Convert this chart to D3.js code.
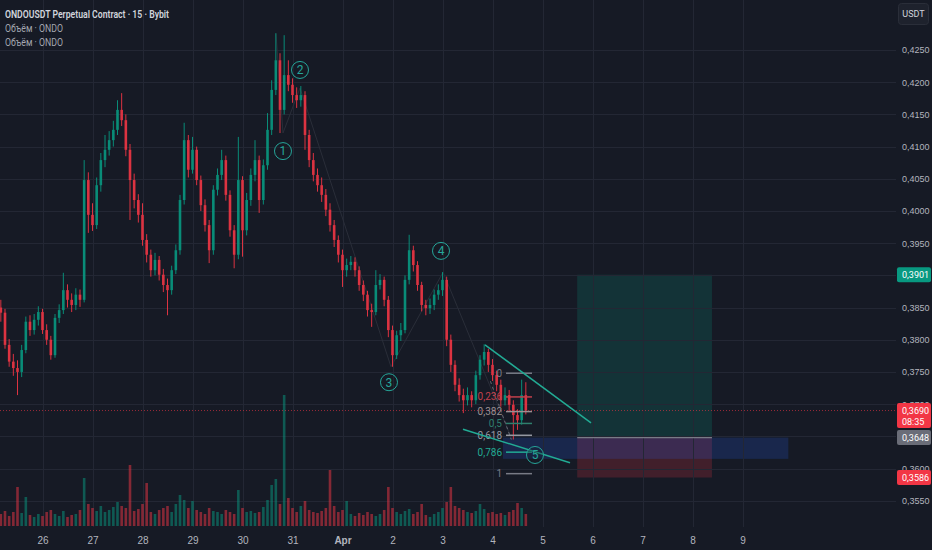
<!DOCTYPE html>
<html>
<head>
<meta charset="utf-8">
<script src="https://cdn.jsdelivr.net/npm/d3@7"></script>
<style>
html, body { margin: 0; padding: 0; background: #161a25; }
svg { display: block; font-family: Roboto, "Noto Sans", sans-serif; }
</style>
</head>
<body>
<div id="main"></div>
<script>
// 2h candles, starting Mar 25 04:00
var closes = [
	0.3842, 0.3792, 0.3766, 0.3756, 0.3750, 0.3784, 0.3828, 0.3815, 0.3831, 0.3843,
	0.3815, 0.3800, 0.3776, 0.3834, 0.3846, 0.3877, 0.3862, 0.3854, 0.3870, 0.3862,
	0.4048, 0.3994, 0.3978, 0.4040, 0.4079, 0.4095, 0.4110, 0.4126, 0.4157, 0.4141,
	0.4095, 0.4048, 0.4017, 0.3994, 0.3955, 0.3932, 0.3908, 0.3924, 0.3901, 0.3885,
	0.3877, 0.3908, 0.3939, 0.4017, 0.4110, 0.4064, 0.4095, 0.4048, 0.4009, 0.3978,
	0.3939, 0.4033, 0.4056, 0.4079, 0.4025, 0.3970, 0.3932, 0.4048, 0.3970, 0.4017,
	0.4056, 0.4079, 0.4017, 0.4071, 0.4126, 0.4188, 0.4234, 0.4157, 0.4211, 0.4196,
	0.4180, 0.4172, 0.4180, 0.4118, 0.4079, 0.4056, 0.4040, 0.4025, 0.4002, 0.3978,
	0.3955, 0.3932, 0.3908, 0.3916, 0.3921, 0.3908, 0.3885, 0.3870, 0.3846, 0.3843,
	0.3885, 0.3893, 0.3862, 0.3815, 0.3776, 0.3807, 0.3815, 0.3893, 0.3939, 0.3916,
	0.3885, 0.3854, 0.3849, 0.3854, 0.3870, 0.3877, 0.3893, 0.3800, 0.3761, 0.3730,
	0.3714, 0.3706, 0.3714, 0.3706, 0.3745, 0.3769, 0.3781, 0.3761, 0.3745, 0.3730,
	0.3706, 0.3714, 0.3699, 0.3683, 0.3675, 0.3714, 0.3690
];
var highs = [
	0.3862, 0.3848, 0.3801, 0.3778, 0.3768, 0.3792, 0.3836, 0.3838, 0.3840, 0.3852,
	0.3848, 0.3824, 0.3806, 0.3840, 0.3855, 0.3904, 0.3886, 0.3872, 0.3880, 0.3878,
	0.4079, 0.4060, 0.4012, 0.4052, 0.4090, 0.4118, 0.4124, 0.4140, 0.4172, 0.4183,
	0.4150, 0.4104, 0.4058, 0.4026, 0.4012, 0.3964, 0.3940, 0.3935, 0.3930, 0.3910,
	0.3895, 0.3915, 0.3948, 0.4025, 0.4137, 0.4118, 0.4115, 0.4100, 0.4055, 0.4018,
	0.3986, 0.4040, 0.4066, 0.4095, 0.4086, 0.4032, 0.3978, 0.4115, 0.4054, 0.4028,
	0.4066, 0.4110, 0.4086, 0.4080, 0.4152, 0.4203, 0.4276, 0.4245, 0.4273, 0.4234,
	0.4206, 0.4192, 0.4194, 0.4186, 0.4126, 0.4090, 0.4066, 0.4052, 0.4034, 0.4012,
	0.3986, 0.3962, 0.3940, 0.3926, 0.3930, 0.3928, 0.3914, 0.3892, 0.3876, 0.3856,
	0.3908, 0.3902, 0.3898, 0.3868, 0.3822, 0.3814, 0.3826, 0.3900, 0.3963, 0.3946,
	0.3922, 0.3890, 0.3862, 0.3864, 0.3878, 0.3886, 0.3905, 0.3898, 0.3808, 0.3768,
	0.3740, 0.3724, 0.3726, 0.3720, 0.3752, 0.3776, 0.3793, 0.3786, 0.3770, 0.3752,
	0.3738, 0.3726, 0.3722, 0.3706, 0.3692, 0.3738, 0.3734
];
var lows = [
	0.3828, 0.3786, 0.3758, 0.3744, 0.3714, 0.3742, 0.3779, 0.3806, 0.3808, 0.3822,
	0.3809, 0.3792, 0.3769, 0.3772, 0.3826, 0.3840, 0.3850, 0.3843, 0.3846, 0.3851,
	0.3858, 0.3966, 0.3969, 0.3972, 0.4030, 0.4068, 0.4086, 0.4100, 0.4118, 0.4132,
	0.4085, 0.3986, 0.4004, 0.3982, 0.3946, 0.3920, 0.3898, 0.3900, 0.3892, 0.3874,
	0.3838, 0.3870, 0.3902, 0.3932, 0.4010, 0.4052, 0.4058, 0.4040, 0.4000, 0.3968,
	0.3919, 0.3932, 0.4024, 0.4048, 0.4016, 0.3960, 0.3911, 0.3925, 0.3929, 0.3962,
	0.4008, 0.4046, 0.3997, 0.4010, 0.4064, 0.4118, 0.4180, 0.4121, 0.4150, 0.4186,
	0.4168, 0.4160, 0.4162, 0.4095, 0.4068, 0.4046, 0.4030, 0.4014, 0.3992, 0.3968,
	0.3944, 0.3920, 0.3882, 0.3898, 0.3908, 0.3898, 0.3876, 0.3860, 0.3836, 0.3820,
	0.3838, 0.3878, 0.3852, 0.3804, 0.3758, 0.3770, 0.3798, 0.3810, 0.3886, 0.3906,
	0.3876, 0.3844, 0.3838, 0.3840, 0.3846, 0.3862, 0.3868, 0.3790, 0.3750, 0.3720,
	0.3704, 0.3686, 0.3698, 0.3695, 0.3700, 0.3738, 0.3760, 0.3750, 0.3736, 0.3720,
	0.3696, 0.3698, 0.3688, 0.3645, 0.3660, 0.3668, 0.3684
];
var volumes = [
	120, 150, 100, 140, 390, 130, 290, 110, 90, 120,
	100, 140, 160, 120, 100, 150, 90, 110, 120, 160,
	480, 220, 180, 150, 200, 140, 160, 190, 240, 200,
	180, 610, 150, 170, 220, 430, 140, 120, 160, 180,
	200, 140, 220, 310, 260, 180, 250, 160, 140, 120,
	180, 150, 140, 120, 160, 140, 120, 360, 180, 140,
	150, 130, 140, 190, 260, 410, 470, 220, 1310, 280,
	180, 140, 200, 250, 160, 140, 130, 150, 180, 560,
	200, 140, 160, 250, 120, 100, 130, 110, 140, 120,
	100, 120, 160, 390, 180, 140, 120, 150, 170, 120,
	140, 220, 110, 90, 120, 140, 180, 240, 390, 200,
	180, 160, 140, 130, 150, 220, 170, 130, 140, 120,
	130, 110, 140, 160, 230, 180, 120
];
var firstOpen = 0.3850;

var dayLabels = ["26", "27", "28", "29", "30", "31", "Apr", "2", "3", "4", "5", "6", "7", "8", "9"];
var priceTicks = [0.3550, 0.3600, 0.3650, 0.3700, 0.3750, 0.3800, 0.3850, 0.3900,
	0.3950, 0.4000, 0.4050, 0.4100, 0.4150, 0.4200, 0.4250];

// drawings
var fibLevels = [0, 0.236, 0.382, 0.5, 0.618, 0.786, 1];
var fibLabels = ["0", "0,236", "0,382", "0,5", "0,618", "0,786", "1"];
var fibColors = ["#787b86", "#c2404c", "#9a8f93", "#2f7f6d", "#9598a1", "#22ab94", "#787b86"];
var fibTop = 0.3748, fibBottom = 0.3592;

var waveNames = ["1", "2", "3", "4", "5"];
var waveLabelTimes = ["2025-03-30T19:26Z", "2025-03-31T03:36Z", "2025-04-01T22:19Z", "2025-04-02T23:17Z", "2025-04-04T20:24Z"];
var waveLabelPrices = [0.4093, 0.4219, 0.3734, 0.3938, 0.3621];
var wavePathTimes = ["2025-03-30T16:05Z", "2025-03-30T19:26Z", "2025-03-31T03:36Z", "2025-04-01T23:17Z", "2025-04-03T00:17Z", "2025-04-04T09:22Z"];
var wavePathPrices = [0.4276, 0.4121, 0.4191, 0.3758, 0.3905, 0.3645];

var wedgeUpper = [["2025-04-03T20:24Z", 0.3792], ["2025-04-05T23:17Z", 0.3671]];
var wedgeLower = [["2025-04-03T09:50Z", 0.3661], ["2025-04-05T13:12Z", 0.3609]];

var posStart = "2025-04-05T16:40Z", posEnd = "2025-04-08T09:20Z";
var target = 0.3901, entry = 0.3648, stop = 0.3586, lastPrice = 0.3690;
var zoneStart = "2025-04-04T05:00Z", zoneEnd = "2025-04-09T22:00Z", zoneTop = 0.3648, zoneBottom = 0.3615;

var W = 932, H = 550, plotRight = 896;
var startTime = Date.UTC(2025, 2, 25, 4);
var step = 2 * 3600 * 1000;

var svg = d3.select("#main").append("svg")
	.attr("width", W)
	.attr("height", H);

svg.append("rect").attr("width", W).attr("height", H).attr("fill", "#161a25");

var x = d3.scaleUtc()
	.domain([new Date(Date.UTC(2025, 2, 26)), new Date(Date.UTC(2025, 3, 9))])
	.range([42.5, 742.5]);
var y = d3.scaleLinear().domain([0.3550, 0.4250]).range([500.7, 50]);
var vy = d3.scaleLinear().domain([0, 1310]).range([526, 395]);

var dayTicks = dayLabels.map(function(d, i) { return new Date(Date.UTC(2025, 2, 26 + i)); });
var times = closes.map(function(d, i) { return new Date(startTime + i * step); });
var opens = closes.map(function(d, i) { return i === 0 ? firstOpen : closes[i - 1]; });
var iso = function(s) { return new Date(s); };
var fmt = function(p) { return d3.format(".4f")(p).replace(".", ","); };

// position tool + zone (under the grid, like TV)
svg.append("rect")
	.attr("x", x(iso(posStart))).attr("width", x(iso(posEnd)) - x(iso(posStart)))
	.attr("y", y(target)).attr("height", y(entry) - y(target))
	.attr("fill", "rgba(8,153,129,0.2)");
svg.append("rect")
	.attr("x", x(iso(posStart))).attr("width", x(iso(posEnd)) - x(iso(posStart)))
	.attr("y", y(entry)).attr("height", y(stop) - y(entry))
	.attr("fill", "rgba(242,54,69,0.2)");
svg.append("rect")
	.attr("x", x(iso(zoneStart))).attr("width", x(iso(zoneEnd)) - x(iso(zoneStart)))
	.attr("y", y(zoneTop)).attr("height", y(zoneBottom) - y(zoneTop))
	.attr("fill", "rgba(41,98,255,0.18)");

// grid
svg.append("g").selectAll("line").data(priceTicks).enter().append("line")
	.attr("x1", 0).attr("x2", plotRight)
	.attr("y1", function(d) { return Math.round(y(d)) + 0.5; })
	.attr("y2", function(d) { return Math.round(y(d)) + 0.5; })
	.attr("stroke", "#232734");
svg.append("g").selectAll("line").data(dayTicks).enter().append("line")
	.attr("x1", function(d) { return Math.round(x(d)) + 0.5; })
	.attr("x2", function(d) { return Math.round(x(d)) + 0.5; })
	.attr("y1", 0).attr("y2", 527)
	.attr("stroke", "#232734");

svg.append("line")
	.attr("x1", x(iso(posStart))).attr("x2", x(iso(posEnd)))
	.attr("y1", y(entry)).attr("y2", y(entry))
	.attr("stroke", "#787b86").attr("stroke-width", 1.2);

// volume
var bw = 2.6;
svg.append("g").selectAll("rect").data(volumes).enter().append("rect")
	.attr("x", function(d, i) { return x(times[i]) - bw / 2; })
	.attr("width", bw)
	.attr("y", function(d) { return vy(d); })
	.attr("height", function(d) { return vy(0) - vy(d); })
	.attr("fill", function(d, i) { return closes[i] >= opens[i] ? "rgba(8,153,129,0.5)" : "rgba(242,54,69,0.5)"; });

// current price line
svg.append("line")
	.attr("x1", 0).attr("x2", plotRight)
	.attr("y1", y(lastPrice)).attr("y2", y(lastPrice))
	.attr("stroke", "#f23645").attr("stroke-opacity", 0.6)
	.attr("stroke-dasharray", "1,2");

// elliott wave connectors
svg.append("path")
	.datum(wavePathTimes.map(function(t, i) { return [x(iso(t)), y(wavePathPrices[i])]; }))
	.attr("d", d3.line())
	.attr("fill", "none")
	.attr("stroke", "#2a2e39")
	.attr("stroke-width", 1);

// candles
var candles = svg.append("g").attr("opacity", 0.9)
	.selectAll("g").data(closes).enter().append("g")
	.attr("fill", function(d, i) { return d >= opens[i] ? "#089981" : "#f23645"; })
	.attr("stroke", function(d, i) { return d >= opens[i] ? "#089981" : "#f23645"; });
candles.append("line")
	.attr("x1", function(d, i) { return x(times[i]); })
	.attr("x2", function(d, i) { return x(times[i]); })
	.attr("y1", function(d, i) { return y(highs[i]); })
	.attr("y2", function(d, i) { return y(lows[i]); })
	.attr("stroke-width", 1);
candles.append("rect")
	.attr("x", function(d, i) { return x(times[i]) - 1.3; })
	.attr("width", 2.6)
	.attr("y", function(d, i) { return y(Math.max(d, opens[i])); })
	.attr("height", function(d, i) { return Math.max(1, Math.abs(y(d) - y(opens[i]))); })
	.attr("stroke", "none");

// fib retracement
var fibX1 = x(iso("2025-04-04T06:29Z")), fibX2 = x(iso("2025-04-04T18:58Z"));
svg.append("line")
	.attr("x1", x(iso("2025-04-03T23:00Z"))).attr("y1", y(fibTop) + 8)
	.attr("x2", x(iso("2025-04-04T09:00Z"))).attr("y2", y(0.3645))
	.attr("stroke", "#9598a1").attr("stroke-opacity", 0.6)
	.attr("stroke-dasharray", "3,3");
var fib = svg.append("g").selectAll("g").data(fibLevels).enter().append("g");
fib.append("line")
	.attr("x1", fibX1).attr("x2", fibX2)
	.attr("y1", function(d) { return y(fibTop - d * (fibTop - fibBottom)); })
	.attr("y2", function(d) { return y(fibTop - d * (fibTop - fibBottom)); })
	.attr("stroke", function(d, i) { return fibColors[i]; })
	.attr("stroke-width", 1.5);
fib.append("text")
	.attr("x", fibX1 - 4)
	.attr("y", function(d) { return y(fibTop - d * (fibTop - fibBottom)); })
	.attr("dy", "0.35em")
	.attr("text-anchor", "end")
	.attr("font-size", 10)
	.attr("fill", function(d, i) { return fibColors[i]; })
	.text(function(d, i) { return fibLabels[i]; });

// wedge lines
[wedgeUpper, wedgeLower].forEach(function(seg) {
	svg.append("line")
		.attr("x1", x(iso(seg[0][0]))).attr("y1", y(seg[0][1]))
		.attr("x2", x(iso(seg[1][0]))).attr("y2", y(seg[1][1]))
		.attr("stroke", "#22ab94").attr("stroke-width", 1.5);
});

// wave labels
var waves = svg.append("g").selectAll("g").data(waveNames).enter().append("g")
	.attr("transform", function(d, i) { return "translate(" + x(iso(waveLabelTimes[i])) + "," + y(waveLabelPrices[i]) + ")"; });
waves.append("circle").attr("r", 8.5)
	.attr("fill", "#161a25").attr("fill-opacity", 0.3)
	.attr("stroke", "#26a69a").attr("stroke-width", 1);
waves.append("text")
	.attr("text-anchor", "middle").attr("dy", "0.36em")
	.attr("font-size", 12).attr("fill", "#26a69a")
	.text(function(d) { return d; });

// axes
var xAxis = svg.append("g")
	.attr("transform", "translate(0,527)")
	.call(d3.axisBottom(x).tickValues(dayTicks).tickSize(0).tickPadding(10)
		.tickFormat(function(d, i) { return dayLabels[i]; }));
xAxis.select(".domain").remove();
xAxis.selectAll("text")
	.attr("font-size", 10).attr("fill", "#b2b5be")
	.attr("font-weight", function(d, i) { return dayLabels[i] === "Apr" ? "bold" : null; });

var yAxis = svg.append("g")
	.attr("transform", "translate(" + (plotRight + 2) + ",0)")
	.call(d3.axisRight(y).tickValues(priceTicks).tickSize(0).tickPadding(4).tickFormat(fmt));
yAxis.select(".domain").remove();
yAxis.selectAll("text").attr("font-size", 9).attr("fill", "#b2b5be");

// price label boxes
var boxes = [
	{ p: target, fill: "#089981", lines: [fmt(target)] },
	{ p: lastPrice, fill: "#f23645", lines: [fmt(lastPrice), "08:35"] },
	{ p: entry, fill: "#6a6d78", lines: [fmt(entry)] },
	{ p: stop, fill: "#f23645", lines: [fmt(stop)] }
];
boxes.forEach(function(b) {
	var h = b.lines.length === 2 ? 25 : 15;
	var top = y(b.p) - 7.5;
	svg.append("rect")
		.attr("x", plotRight + 1).attr("y", top)
		.attr("width", W - plotRight - 2).attr("height", h)
		.attr("rx", 2).attr("fill", b.fill);
	b.lines.forEach(function(t, k) {
		svg.append("text")
			.attr("x", plotRight + 6).attr("y", top + 7.5 + k * 11)
			.attr("dy", "0.35em")
			.attr("font-size", 9).attr("fill", "#ffffff")
			.text(t);
	});
});

// currency button
svg.append("rect").attr("x", 898.5).attr("y", 3.5).attr("width", 30).attr("height", 21)
	.attr("rx", 3).attr("fill", "#1e222d").attr("stroke", "#2a2e39");
svg.append("text").attr("x", 913.5).attr("y", 14).attr("dy", "0.35em")
	.attr("text-anchor", "middle").attr("font-size", 9).attr("fill", "#d1d4dc")
	.text("USDT");

// legend
svg.append("text").attr("x", 5).attr("y", 18)
	.attr("font-size", 11).attr("font-weight", 600).attr("fill", "#d1d4dc")
	.attr("textLength", 164).attr("lengthAdjust", "spacingAndGlyphs")
	.text("ONDOUSDT Perpetual Contract · 15 · Bybit");
svg.append("text").attr("x", 5).attr("y", 32)
	.attr("font-size", 11).attr("fill", "#a3a6af")
	.attr("textLength", 58).attr("lengthAdjust", "spacingAndGlyphs")
	.text("Объём · ONDO");
svg.append("text").attr("x", 5).attr("y", 46)
	.attr("font-size", 11).attr("fill", "#a3a6af")
	.attr("textLength", 58).attr("lengthAdjust", "spacingAndGlyphs")
	.text("Объём · ONDO");
</script>
</body>
</html>
